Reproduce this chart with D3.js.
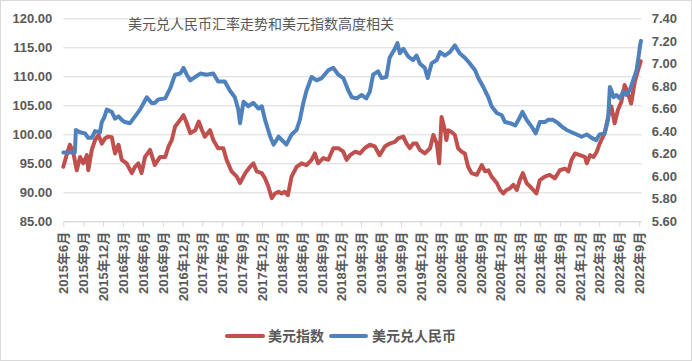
<!DOCTYPE html>
<html lang="zh">
  <head>
    <meta charset="UTF-8" />
    <title>美元兑人民币汇率走势和美元指数高度相关</title>
    <script src="https://d3js.org/d3.v7.min.js"></script>
    <style>
      body { margin: 0; background: #fff; }
      text { fill: #595959; }
      .axis-label { font: bold 13px "Liberation Sans", "Noto Sans CJK SC", sans-serif; }
      .title { font: 14px "Noto Sans CJK SC", sans-serif; }
      .legend-label { font: bold 14px "Noto Sans CJK SC", sans-serif; }
    </style>
  </head>
  <body>
    <svg id="chart" width="692" height="361"></svg>
    <script>
      // 美元指数 (left axis)
      const dollarIndex = [
        ["2015-06-01", 94.4], ["2015-06-16", 96.4], ["2015-07-01", 98.2], ["2015-07-16", 97.0],
        ["2015-08-02", 93.8], ["2015-08-17", 96.1], ["2015-09-01", 95.0], ["2015-09-17", 96.4],
        ["2015-09-24", 93.8], ["2015-10-10", 97.3], ["2015-10-25", 99.0], ["2015-11-10", 99.9],
        ["2015-11-25", 98.4], ["2015-12-10", 99.3], ["2015-12-25", 99.6], ["2016-01-10", 99.5],
        ["2016-01-25", 96.7], ["2016-02-10", 98.2], ["2016-02-25", 95.6], ["2016-03-18", 95.0],
        ["2016-04-11", 93.3], ["2016-04-26", 94.4], ["2016-05-11", 95.0], ["2016-05-26", 93.3],
        ["2016-06-11", 96.1], ["2016-07-04", 97.3], ["2016-07-26", 94.7], ["2016-08-19", 96.1],
        ["2016-09-12", 96.1], ["2016-09-27", 97.9], ["2016-10-12", 99.0], ["2016-10-27", 101.3],
        ["2016-11-20", 102.5], ["2016-12-05", 103.3], ["2016-12-20", 101.9], ["2017-01-05", 100.2],
        ["2017-01-28", 100.7], ["2017-02-13", 102.2], ["2017-02-28", 100.7], ["2017-03-13", 99.6],
        ["2017-04-06", 100.7], ["2017-04-21", 99.0], ["2017-05-13", 97.6], ["2017-06-06", 97.6],
        ["2017-06-21", 95.6], ["2017-07-14", 93.6], ["2017-08-07", 92.7], ["2017-08-22", 91.6],
        ["2017-09-15", 93.3], ["2017-10-07", 94.4], ["2017-10-22", 95.0], ["2017-11-07", 93.6],
        ["2017-11-30", 93.3], ["2017-12-15", 92.4], ["2017-12-30", 91.0], ["2018-01-15", 89.0],
        ["2018-01-30", 89.8], ["2018-02-15", 90.1], ["2018-03-01", 89.8], ["2018-03-15", 90.1],
        ["2018-03-30", 89.5], ["2018-04-16", 92.7], ["2018-05-09", 94.4], ["2018-06-01", 95.0],
        ["2018-06-24", 94.7], ["2018-07-17", 95.6], ["2018-08-01", 96.7], ["2018-08-16", 95.0],
        ["2018-09-09", 95.9], ["2018-10-02", 95.6], ["2018-10-25", 97.6], ["2018-11-17", 97.6],
        ["2018-12-10", 97.0], ["2018-12-25", 95.6], ["2019-01-10", 96.4], ["2019-02-03", 97.0],
        ["2019-02-25", 96.7], ["2019-03-18", 97.6], ["2019-04-11", 98.2], ["2019-05-04", 97.9],
        ["2019-05-26", 96.4], ["2019-06-19", 97.9], ["2019-07-11", 98.4], ["2019-08-04", 98.7],
        ["2019-08-19", 99.3], ["2019-09-12", 99.6], ["2019-09-27", 98.4], ["2019-10-12", 97.6],
        ["2019-10-27", 98.4], ["2019-11-12", 98.4], ["2019-11-27", 97.3], ["2019-12-20", 96.7],
        ["2020-01-13", 97.6], ["2020-01-28", 99.9], ["2020-02-13", 98.4], ["2020-02-24", 95.0],
        ["2020-03-06", 103.0], ["2020-03-21", 100.7], ["2020-03-28", 99.0], ["2020-04-05", 100.7],
        ["2020-04-21", 100.4], ["2020-05-06", 99.9], ["2020-05-21", 97.6], ["2020-06-06", 97.0],
        ["2020-06-21", 96.7], ["2020-07-06", 94.4], ["2020-07-22", 93.3], ["2020-08-15", 93.0],
        ["2020-09-07", 94.7], ["2020-09-22", 93.6], ["2020-10-07", 93.8], ["2020-10-22", 92.7],
        ["2020-11-15", 91.6], ["2020-11-30", 90.4], ["2020-12-15", 89.8], ["2020-12-30", 90.4],
        ["2021-01-15", 90.7], ["2021-01-30", 91.3], ["2021-02-15", 90.4], ["2021-03-01", 92.1],
        ["2021-03-15", 93.3], ["2021-04-01", 91.6], ["2021-04-24", 90.7], ["2021-05-16", 89.8],
        ["2021-06-01", 92.1], ["2021-06-24", 92.7], ["2021-07-16", 93.0], ["2021-08-09", 92.4],
        ["2021-09-01", 93.8], ["2021-09-24", 94.1], ["2021-10-10", 93.6], ["2021-10-25", 95.6],
        ["2021-11-10", 96.7], ["2021-12-02", 96.4], ["2021-12-25", 96.1], ["2022-01-03", 95.0],
        ["2022-01-18", 96.4], ["2022-02-03", 96.1], ["2022-02-18", 97.0], ["2022-03-03", 98.4],
        ["2022-03-26", 100.2], ["2022-04-11", 103.0], ["2022-04-26", 104.8], ["2022-05-11", 101.9],
        ["2022-05-26", 104.2], ["2022-06-11", 105.6], ["2022-06-26", 108.5], ["2022-07-11", 107.1],
        ["2022-07-26", 105.3], ["2022-08-12", 109.1], ["2022-08-27", 111.1], ["2022-09-08", 112.6]
      ];

      // 美元兑人民币 (right axis)
      const usdCny = [
        ["2015-06-01", 6.21], ["2015-07-24", 6.21], ["2015-07-29", 6.41], ["2015-08-17", 6.39],
        ["2015-09-09", 6.38], ["2015-09-23", 6.34], ["2015-10-10", 6.34], ["2015-10-25", 6.40],
        ["2015-11-17", 6.39], ["2015-11-25", 6.48], ["2015-12-06", 6.52], ["2015-12-18", 6.59],
        ["2016-01-10", 6.57], ["2016-01-25", 6.51], ["2016-02-10", 6.53], ["2016-02-25", 6.50],
        ["2016-03-10", 6.48], ["2016-04-03", 6.47], ["2016-04-26", 6.53], ["2016-05-19", 6.59],
        ["2016-06-19", 6.70], ["2016-07-11", 6.65], ["2016-07-26", 6.65], ["2016-08-11", 6.68],
        ["2016-09-12", 6.69], ["2016-10-05", 6.78], ["2016-10-27", 6.90], ["2016-11-20", 6.91],
        ["2016-12-05", 6.96], ["2016-12-20", 6.90], ["2017-01-05", 6.85], ["2017-01-28", 6.88],
        ["2017-02-20", 6.91], ["2017-03-21", 6.90], ["2017-04-21", 6.91], ["2017-05-13", 6.84],
        ["2017-06-13", 6.84], ["2017-07-06", 6.76], ["2017-07-29", 6.70], ["2017-08-14", 6.59],
        ["2017-08-22", 6.47], ["2017-09-07", 6.66], ["2017-09-29", 6.62], ["2017-10-22", 6.65],
        ["2017-11-15", 6.60], ["2017-11-30", 6.62], ["2017-12-15", 6.50], ["2018-01-08", 6.35],
        ["2018-01-23", 6.28], ["2018-02-15", 6.35], ["2018-03-08", 6.31], ["2018-03-23", 6.28],
        ["2018-04-16", 6.37], ["2018-05-09", 6.41], ["2018-05-24", 6.50], ["2018-06-09", 6.65],
        ["2018-06-24", 6.76], ["2018-07-17", 6.88], ["2018-08-09", 6.85], ["2018-09-02", 6.87],
        ["2018-10-02", 6.94], ["2018-10-25", 6.96], ["2018-11-17", 6.90], ["2018-12-10", 6.87],
        ["2019-01-02", 6.76], ["2019-01-18", 6.70], ["2019-02-10", 6.69], ["2019-03-03", 6.72],
        ["2019-03-26", 6.69], ["2019-04-11", 6.75], ["2019-04-26", 6.90], ["2019-05-19", 6.93],
        ["2019-06-04", 6.87], ["2019-06-26", 6.88], ["2019-07-11", 7.05], ["2019-08-04", 7.13],
        ["2019-08-16", 7.18], ["2019-08-27", 7.09], ["2019-09-12", 7.13], ["2019-10-05", 7.06],
        ["2019-10-27", 7.03], ["2019-11-12", 7.07], ["2019-11-27", 7.00], ["2019-12-20", 6.96],
        ["2020-01-02", 6.87], ["2020-01-20", 7.00], ["2020-02-13", 7.03], ["2020-02-28", 7.10],
        ["2020-03-21", 7.07], ["2020-04-13", 7.10], ["2020-05-06", 7.16], ["2020-05-28", 7.09],
        ["2020-06-21", 7.05], ["2020-07-14", 7.00], ["2020-08-07", 6.94], ["2020-08-22", 6.87],
        ["2020-09-14", 6.79], ["2020-10-07", 6.70], ["2020-10-22", 6.62], ["2020-11-15", 6.56],
        ["2020-12-08", 6.54], ["2020-12-23", 6.48], ["2021-01-15", 6.47], ["2021-02-08", 6.45],
        ["2021-02-23", 6.50], ["2021-03-13", 6.57], ["2021-04-01", 6.50], ["2021-04-24", 6.44],
        ["2021-05-13", 6.38], ["2021-06-01", 6.48], ["2021-06-24", 6.48], ["2021-07-09", 6.50],
        ["2021-08-01", 6.50], ["2021-08-24", 6.47], ["2021-09-10", 6.44], ["2021-10-02", 6.41],
        ["2021-10-25", 6.39], ["2021-11-18", 6.37], ["2021-12-10", 6.35], ["2022-01-03", 6.37],
        ["2022-01-25", 6.34], ["2022-02-15", 6.32], ["2022-03-03", 6.37], ["2022-03-26", 6.38],
        ["2022-04-11", 6.50], ["2022-04-19", 6.79], ["2022-04-26", 6.76], ["2022-05-06", 6.70],
        ["2022-05-19", 6.72], ["2022-06-04", 6.69], ["2022-06-19", 6.75], ["2022-07-04", 6.72],
        ["2022-07-19", 6.76], ["2022-08-04", 6.85], ["2022-08-20", 6.94], ["2022-08-27", 7.03],
        ["2022-09-05", 7.16], ["2022-09-09", 7.20]
      ];

      const xTicks = [
        "2015-06-01", "2015-09-01", "2015-12-01",
        "2016-03-01", "2016-06-01", "2016-09-01", "2016-12-01",
        "2017-03-01", "2017-06-01", "2017-09-01", "2017-12-01",
        "2018-03-01", "2018-06-01", "2018-09-01", "2018-12-01",
        "2019-03-01", "2019-06-01", "2019-09-01", "2019-12-01",
        "2020-03-01", "2020-06-01", "2020-09-01", "2020-12-01",
        "2021-03-01", "2021-06-01", "2021-09-01", "2021-12-01",
        "2022-03-01", "2022-06-01", "2022-09-01"
      ];
      const leftTicks = [85, 90, 95, 100, 105, 110, 115, 120];
      const rightTicks = [5.6, 5.8, 6.0, 6.2, 6.4, 6.6, 6.8, 7.0, 7.2, 7.4];
      const seriesNames = ["美元指数", "美元兑人民币"];
      const colors = ["#C0504D", "#4F81BD"];
      const title = "美元兑人民币汇率走势和美元指数高度相关";

      const width = 692;
      const height = 361;
      const plot = { left: 63.3, right: 641.7, top: 18.3, bottom: 221.3 };

      const parse = d3.timeParse("%Y-%m-%d");
      const svg = d3.select("#chart");

      // outer border
      svg.append("rect")
        .attr("x", 0.5).attr("y", 0.5)
        .attr("width", width - 1).attr("height", height - 1)
        .attr("fill", "#fff").attr("stroke", "#D9D9D9");

      const x = d3.scaleTime()
        .domain([parse("2015-06-01"), parse("2022-09-01")])
        .range([plot.left, 639.2]);
      const yL = d3.scaleLinear().domain([85, 120]).range([plot.bottom, plot.top]);
      const yR = d3.scaleLinear().domain([5.6, 7.4]).range([plot.bottom, plot.top]);

      // gridlines
      svg.append("g")
        .attr("transform", `translate(${plot.left},0)`)
        .call(d3.axisLeft(yL).tickValues(leftTicks).tickSize(-(plot.right - plot.left)).tickFormat(""))
        .call((g) => g.select(".domain").remove())
        .call((g) => g.selectAll("line").attr("stroke", "#D9D9D9"));

      // left axis labels
      svg.append("g")
        .attr("transform", `translate(${plot.left},0)`)
        .call(d3.axisLeft(yL).tickValues(leftTicks).tickSize(0).tickPadding(11).tickFormat(d3.format(".2f")))
        .call((g) => g.select(".domain").remove())
        .call((g) => g.selectAll("text").attr("class", "axis-label").attr("fill", null));

      // right axis labels
      svg.append("g")
        .attr("transform", `translate(${plot.right},0)`)
        .call(d3.axisRight(yR).tickValues(rightTicks).tickSize(0).tickPadding(10).tickFormat(d3.format(".2f")))
        .call((g) => g.select(".domain").remove())
        .call((g) => g.selectAll("text").attr("class", "axis-label").attr("fill", null));

      // bottom axis
      svg.append("line")
        .attr("x1", plot.left).attr("x2", plot.right)
        .attr("y1", plot.bottom + 0.5).attr("y2", plot.bottom + 0.5)
        .attr("stroke", "#D9D9D9");

      const fmt = (d) => `${d.getFullYear()}年${d.getMonth() + 1}月`;
      const xAxis = svg.append("g")
        .attr("transform", `translate(0,${plot.bottom + 0.5})`)
        .call(d3.axisBottom(x).tickValues(xTicks.map(parse)).tickSize(5).tickSizeOuter(0).tickFormat(fmt));
      xAxis.select(".domain").remove();
      xAxis.selectAll("line").attr("stroke", "#D9D9D9");
      xAxis.selectAll("text")
        .attr("class", "axis-label")
        .attr("fill", null)
        .attr("text-anchor", "end")
        .attr("transform", "rotate(-90)")
        .attr("x", -10)
        .attr("y", 0)
        .attr("dy", "0.35em");

      // lines
      const lineL = d3.line().x((d) => x(parse(d[0]))).y((d) => yL(d[1]));
      const lineR = d3.line().x((d) => x(parse(d[0]))).y((d) => yR(d[1]));

      svg.append("path")
        .datum(dollarIndex)
        .attr("d", lineL)
        .attr("fill", "none")
        .attr("stroke", colors[0])
        .attr("stroke-width", 4)
        .attr("stroke-linejoin", "round")
        .attr("stroke-linecap", "round");

      svg.append("path")
        .datum(usdCny)
        .attr("d", lineR)
        .attr("fill", "none")
        .attr("stroke", colors[1])
        .attr("stroke-width", 4)
        .attr("stroke-linejoin", "round")
        .attr("stroke-linecap", "round");

      // title
      svg.append("text")
        .attr("class", "title")
        .attr("x", 261)
        .attr("y", 29)
        .attr("text-anchor", "middle")
        .text(title);

      // legend
      const legendItems = [
        { x1: 227, x2: 263, tx: 268 },
        { x1: 331, x2: 366, tx: 372 }
      ];
      const legend = svg.append("g");
      legendItems.forEach((item, i) => {
        legend.append("line")
          .attr("x1", item.x1).attr("x2", item.x2)
          .attr("y1", 336).attr("y2", 336)
          .attr("stroke", colors[i])
          .attr("stroke-width", 4)
          .attr("stroke-linecap", "round");
        legend.append("text")
          .attr("class", "legend-label")
          .attr("x", item.tx)
          .attr("y", 341)
          .text(seriesNames[i]);
      });
    </script>
  </body>
</html>
